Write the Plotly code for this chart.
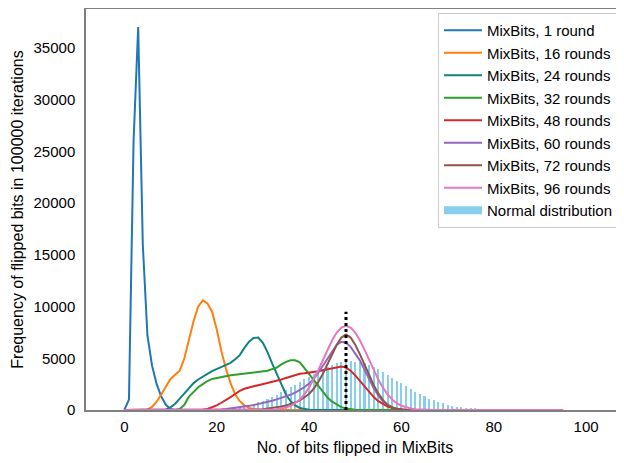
import plotly.graph_objects as go

# ---------------- data ----------------
x_bits = list(range(0, 96))

def pad(vals, start):
    # place values starting at index `start`, zeros elsewhere (0..95)
    out = [0] * 96
    for i, v in enumerate(vals):
        out[start + i] = v
    return out

# MixBits, 1 round (x = 0..11)
r1_vals = [0, 1000, 26000, 37000, 16000, 7200, 4300, 2500, 1300, 500, 100, 0]
# MixBits, 16 rounds (x = 4..30)
r16_vals = [0, 50, 300, 800, 1500, 2300, 3000, 3400, 3800, 5000, 6700, 8600, 10000,
            10600, 10300, 9500, 7800, 5700, 4000, 2600, 1500, 850, 450, 200, 90, 30, 0]
# MixBits, 24 rounds (x = 8..41)
r24_vals = [0, 50, 250, 600, 1100, 1600, 2100, 2600, 2950, 3250, 3500, 3750, 3950,
            4150, 4300, 4550, 4900, 5300, 6000, 6600, 6950, 7000, 6500, 5600, 4500,
            3500, 2400, 1500, 850, 450, 200, 80, 20, 0]
# MixBits, 32 rounds (x = 11..51)
r32_vals = [0, 100, 500, 1300, 1800, 2200, 2500, 2800, 3000, 3100, 3200, 3300, 3350,
            3400, 3450, 3500, 3550, 3600, 3650, 3700, 3800, 3950, 4100, 4400, 4650,
            4800, 4800, 4600, 4100, 3500, 2900, 2300, 1800, 1200, 800, 500, 280, 140,
            60, 20, 0]
# MixBits, 48 rounds (x = 16..62)
r48_vals = [0, 30, 100, 250, 450, 700, 950, 1250, 1550, 1850, 2050, 2200, 2300, 2400,
            2500, 2650, 2750, 2850, 2950, 3100, 3250, 3400, 3500, 3550, 3600, 3650,
            3750, 3850, 3950, 4050, 4150, 4200, 4100, 3800, 3350, 2800, 2300, 1750,
            1250, 850, 550, 330, 180, 90, 40, 15, 0]
# MixBits, 60 rounds (x = 19..62)
r60_vals = [0, 30, 60, 100, 150, 200, 260, 320, 400, 480, 570, 670, 780, 900, 1030,
            1170, 1320, 1480, 1680, 1900, 2200, 2550, 3000, 3600, 4300, 5000, 5700,
            6300, 6600, 6500, 6100, 5500, 4800, 3900, 3000, 2100, 1400, 850, 480, 250,
            110, 40, 10, 0]
# MixBits, 72 rounds (x = 28..62)
r72_vals = [0, 30, 80, 130, 190, 260, 340, 440, 560, 720, 920, 1200, 1550, 2050, 2700,
            3500, 4400, 5400, 6300, 7000, 7300, 7000, 6300, 5400, 4400, 3400, 2400,
            1600, 950, 520, 260, 110, 40, 10, 0]
# MixBits, 96 rounds (x = 29..67)
r96_vals = [0, 10, 20, 40, 75, 137, 240, 410, 660, 1020, 1510, 2160, 2940, 3850, 4830,
            5830, 6740, 7490, 7970, 8140, 7970, 7490, 6740, 5830, 4830, 3850, 2940,
            2160, 1510, 1020, 660, 410, 240, 137, 75, 40, 20, 10, 0]

series = [
    ("MixBits, 1 round", pad(r1_vals, 0), "#1f77b4"),
    ("MixBits, 16 rounds", pad(r16_vals, 4), "#ff7f0e"),
    ("MixBits, 24 rounds", pad(r24_vals, 8), "#138282"),
    ("MixBits, 32 rounds", pad(r32_vals, 11), "#2ca02c"),
    ("MixBits, 48 rounds", pad(r48_vals, 16), "#d62728"),
    ("MixBits, 60 rounds", pad(r60_vals, 19), "#9467bd"),
    ("MixBits, 72 rounds", pad(r72_vals, 28), "#8c564b"),
    ("MixBits, 96 rounds", pad(r96_vals, 29), "#e377c2"),
]

# Normal distribution bars (x = 20..80)
normal_x = list(range(20, 81))
normal_y = [70, 95, 125, 170, 215, 280, 380, 470, 590, 730, 900, 1080, 1280, 1490,
            1720, 1960, 2200, 2450, 2700, 2950, 3200, 3450, 3700, 3950, 4150, 4340,
            4500, 4600, 4680, 4700, 4680, 4610, 4500, 4350, 4150, 3930, 3680, 3410,
            3140, 2850, 2570, 2290, 2020, 1760, 1530, 1310, 1110, 930, 770, 640, 520,
            420, 330, 260, 200, 160, 120, 90, 70, 50, 35]

# dotted mean marker
mean_x = [48, 48]
mean_y = [0, 9500]

x_ticks = [0, 20, 40, 60, 80, 100]
y_ticks = [0, 5000, 10000, 15000, 20000, 25000, 30000, 35000]

# ---------------- figure ----------------
fig = go.Figure()

bar_color = "#87CEEB"

fig.add_trace(go.Bar(x=normal_x, y=normal_y, name="Normal distribution",
                     marker=dict(color=bar_color, line=dict(width=0)), width=0.45,
                     showlegend=False))

for i, (name, ys, col) in enumerate(series):
    fig.add_trace(go.Scatter(x=x_bits, y=ys, mode="lines", name=name,
                             legendgroup=f"g{i}", legendrank=i + 1,
                             line=dict(color=col, width=2)))

# legend swatch for the bars (wide rectangle like the reference)
fig.add_trace(go.Scatter(x=[None], y=[None], mode="lines", name="Normal distribution",
                         legendgroup="g9", legendrank=20,
                         line=dict(color=bar_color, width=8)))

fig.add_trace(go.Scatter(x=mean_x, y=mean_y, mode="lines", showlegend=False,
                         line=dict(color="black", width=3, dash="dot")))

font_family = "Arial, Liberation Sans, Helvetica, sans-serif"

# the page body adds an 8px offset; figure is sized so the page matches 624x463
W, H = 616, 455
plot_l, plot_t, plot_r, plot_b = 78, 1, 616, 402

fig.update_layout(
    width=W, height=H,
    margin=dict(l=plot_l, r=W - plot_r, t=plot_t, b=H - plot_b),
    paper_bgcolor="white", plot_bgcolor="white",
    font=dict(family=font_family, size=15, color="black"),
    bargap=0,
    legend=dict(x=(430 - plot_l) / (plot_r - plot_l), y=0.99, xanchor="left",
                yanchor="top",
                bgcolor="white", bordercolor="#cccccc", borderwidth=1,
                font=dict(size=15, family=font_family), tracegroupgap=0,
                itemwidth=38, traceorder="grouped"),
    xaxis=dict(range=[-8.3, 108.2], tickvals=x_ticks, showgrid=False, zeroline=False,
               showline=True, mirror=True, linecolor="#808080", linewidth=1.5,
               ticks="", ticklen=0, ticklabelstandoff=2, automargin=False,
               title=dict(text="No. of bits flipped in MixBits", standoff=8,
                          font=dict(size=16))),
    yaxis=dict(range=[0, 38750], tickvals=y_ticks, tickformat="d", showgrid=False,
               zeroline=False, showline=True, linecolor="#808080", linewidth=1.5,
               ticks="", ticklen=0, ticklabelstandoff=6, automargin=False,
               title=dict(text="Frequency of flipped bits in 100000 iterations",
                          standoff=6, font=dict(size=16))),
)

fig.write_html("out.html")
